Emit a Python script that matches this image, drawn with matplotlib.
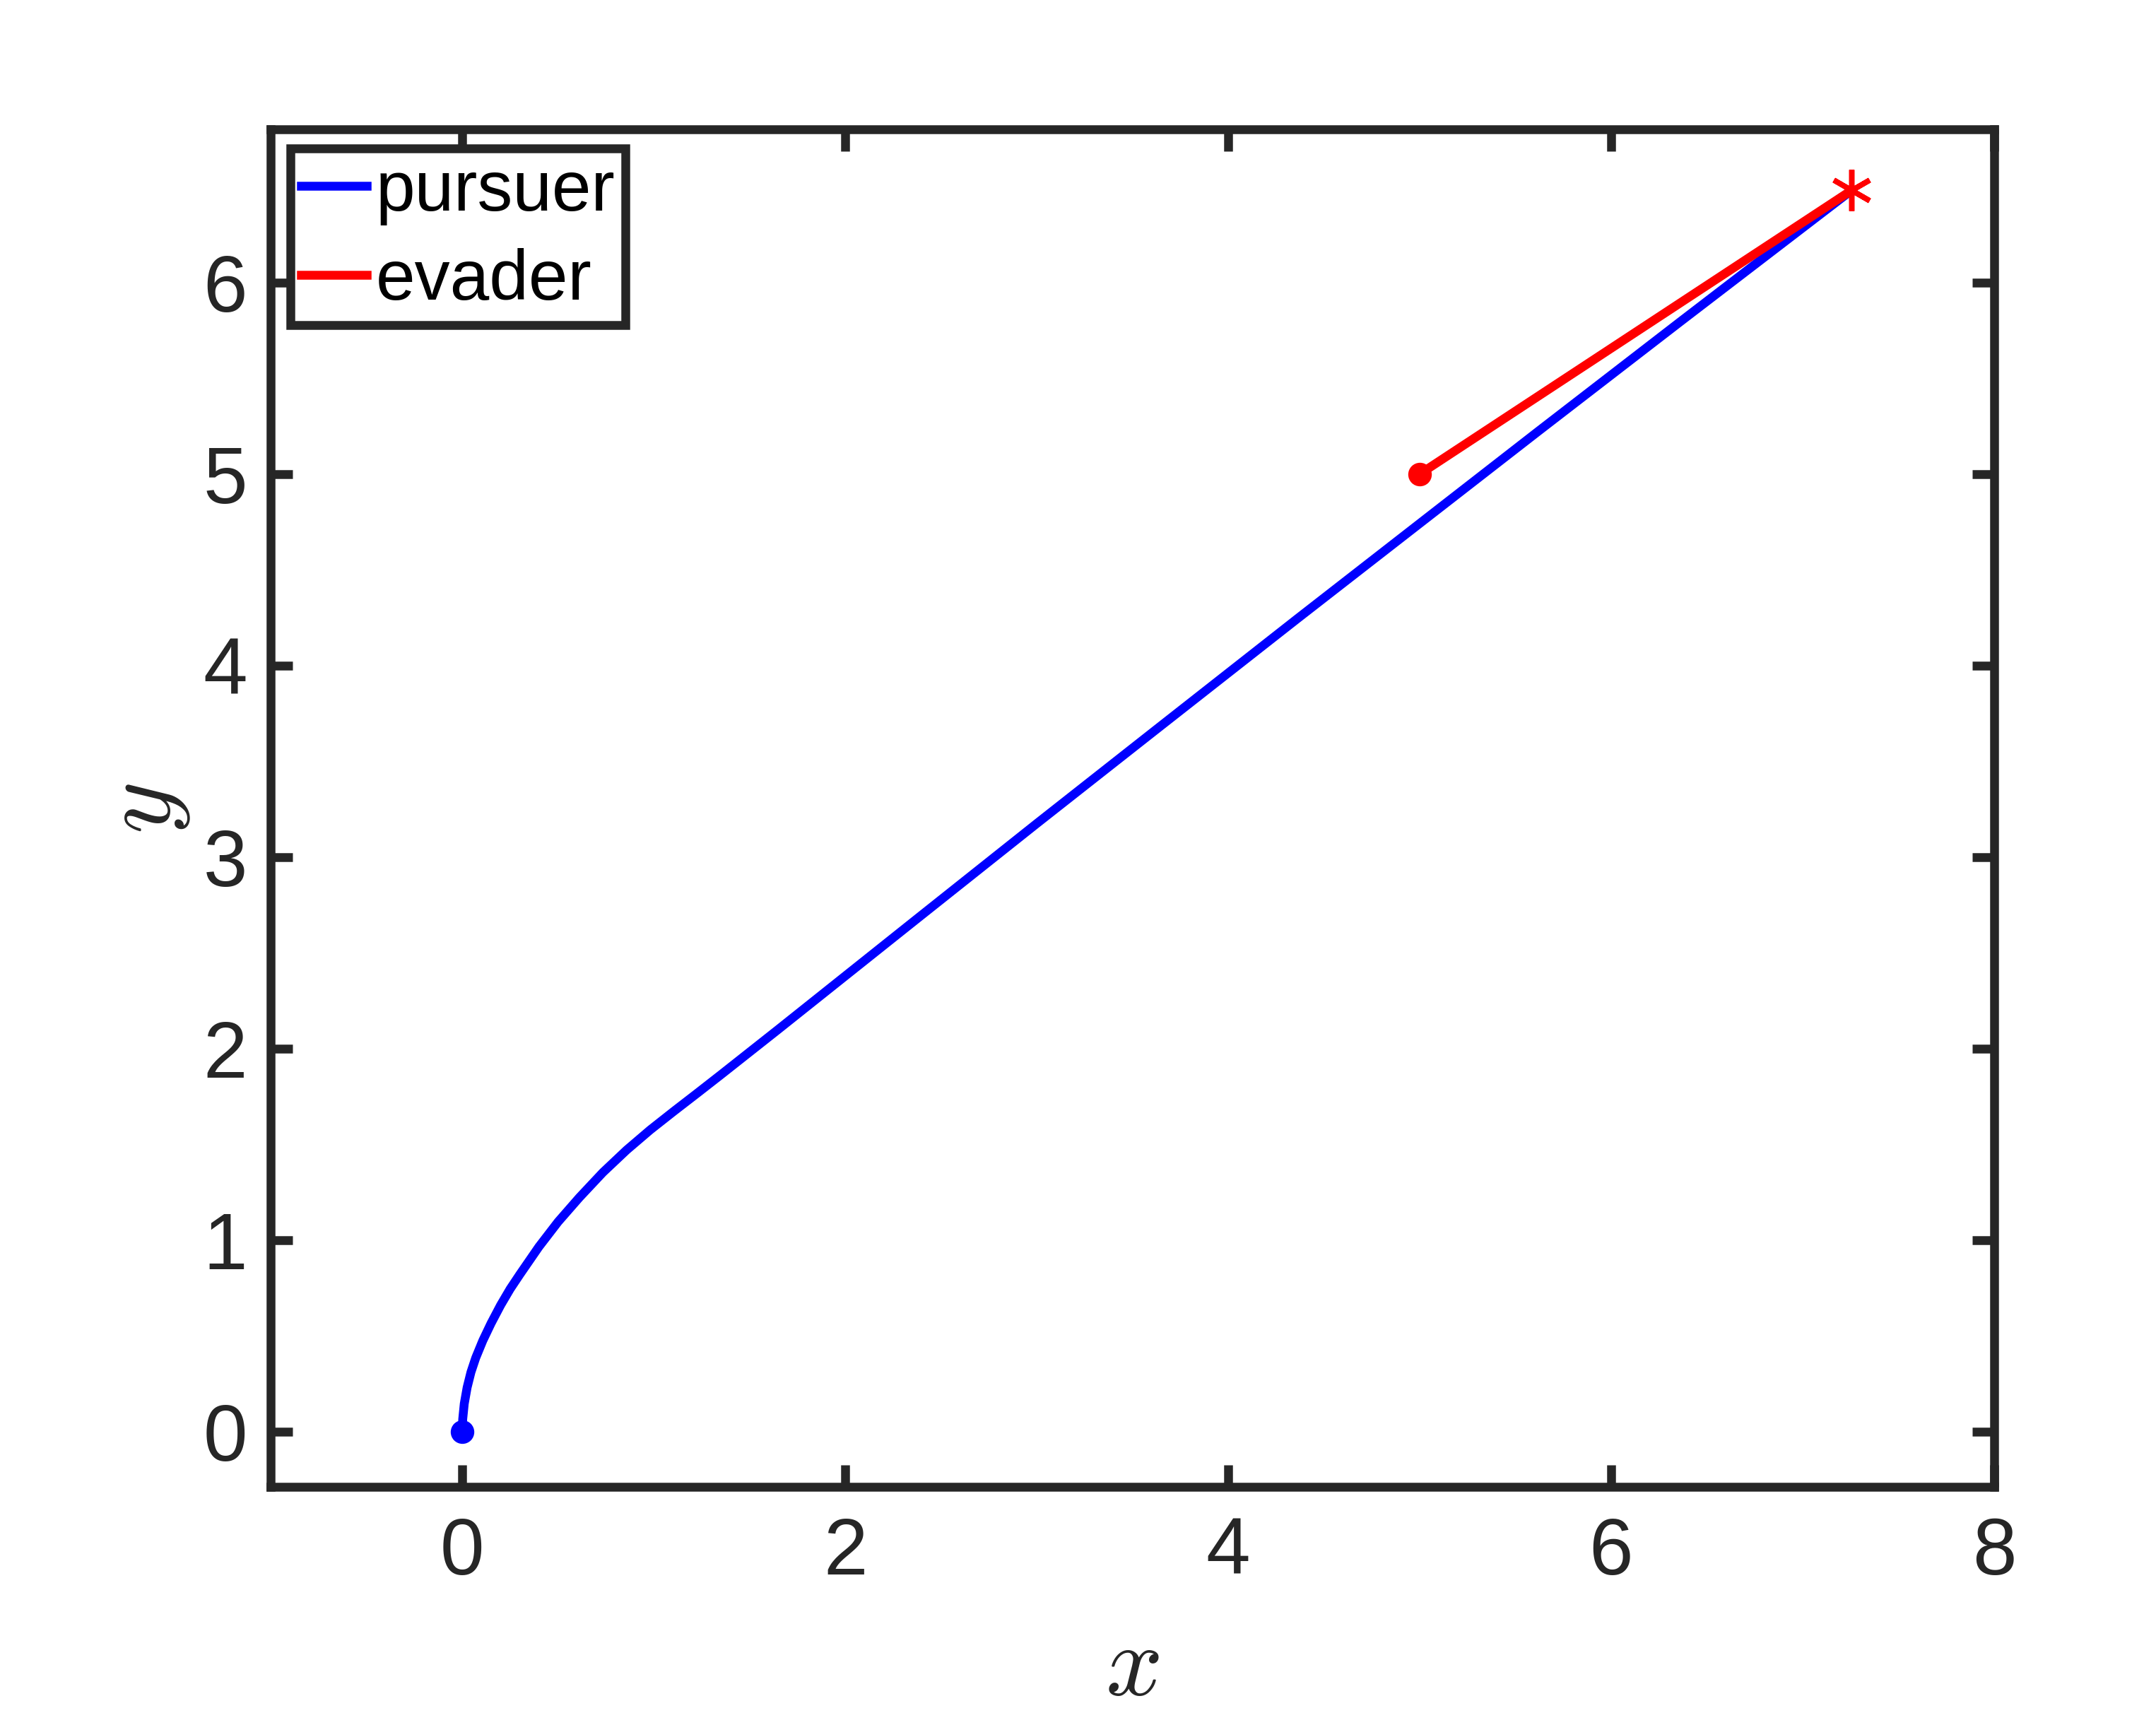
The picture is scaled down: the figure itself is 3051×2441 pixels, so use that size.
import matplotlib
matplotlib.use('Agg')
import matplotlib.pyplot as plt

# pursuer trajectory
pursuer_x = [0, 0.002, 0.01, 0.025, 0.045, 0.07, 0.107, 0.15, 0.2, 0.25, 0.3, 0.4,
             0.5, 0.611, 0.734, 0.858, 0.981, 1.104, 1.227, 1.35, 1.65, 2.37, 3.0,
             3.62, 4.36, 5.0, 5.62, 6.36, 7.256]
pursuer_y = [0, 0.065, 0.145, 0.23, 0.31, 0.385, 0.475, 0.565, 0.66, 0.745, 0.82, 0.965,
             1.095, 1.222, 1.353, 1.47, 1.575, 1.672, 1.767, 1.863, 2.10, 2.674, 3.175,
             3.663, 4.244, 4.742, 5.224, 5.795, 6.482]

# evader moves on a straight line
evader_x = [5, 7.256]
evader_y = [5, 6.482]

x_ticks = [0, 2, 4, 6, 8]
y_ticks = [0, 1, 2, 3, 4, 5, 6]

axis_color = '#262626'
plt.rcParams['font.family'] = ['Liberation Sans', 'DejaVu Sans']
plt.rcParams['mathtext.fontset'] = 'cm'

fig = plt.figure(figsize=(3051 / 300, 2441 / 300), dpi=300)
ax = fig.add_axes([0.12563, 0.13793, 0.79931, 0.78709])

ax.plot(pursuer_x, pursuer_y, color=(0, 0, 1), lw=3, label='pursuer')
ax.plot(evader_x, evader_y, color=(1, 0, 0), lw=3, label='evader')

# start points and capture point
ax.plot(pursuer_x[0], pursuer_y[0], 'o', color=(0, 0, 1), ms=7)
ax.plot(evader_x[0], evader_y[0], 'o', color=(1, 0, 0), ms=7)
ax.plot(evader_x[-1], evader_y[-1], marker=(6, 2, 0), color=(1, 0, 0), ms=14, mew=1.8)

ax.set_xlim(-1, 8)
ax.set_ylim(-0.29, 6.80)
ax.set_xticks(x_ticks)
ax.set_yticks(y_ticks)

for sp in ax.spines.values():
    sp.set_linewidth(3)
    sp.set_color(axis_color)
ax.tick_params(direction='in', top=True, right=True, length=7.5, width=3,
               color=axis_color, labelcolor=axis_color, labelsize=27)
ax.tick_params(axis='x', pad=10)
ax.tick_params(axis='y', pad=8)

ax.set_xlabel('$x$', fontsize=34, color=axis_color, va='center')
ax.set_ylabel('$y$', fontsize=34, color=axis_color, va='center')
ax.xaxis.set_label_coords(0.5, -0.1336)
ax.yaxis.set_label_coords(-0.073, 0.5)

leg = ax.legend(loc='upper left', bbox_to_anchor=(0.0115, 0.9859), borderaxespad=0,
                fontsize=24, handlelength=0.93, handletextpad=0.12, borderpad=0.15,
                labelspacing=0.32, fancybox=False, framealpha=1)
leg.get_frame().set_edgecolor(axis_color)
leg.get_frame().set_linewidth(3)

fig.savefig('out.png', dpi=300, facecolor='white')
